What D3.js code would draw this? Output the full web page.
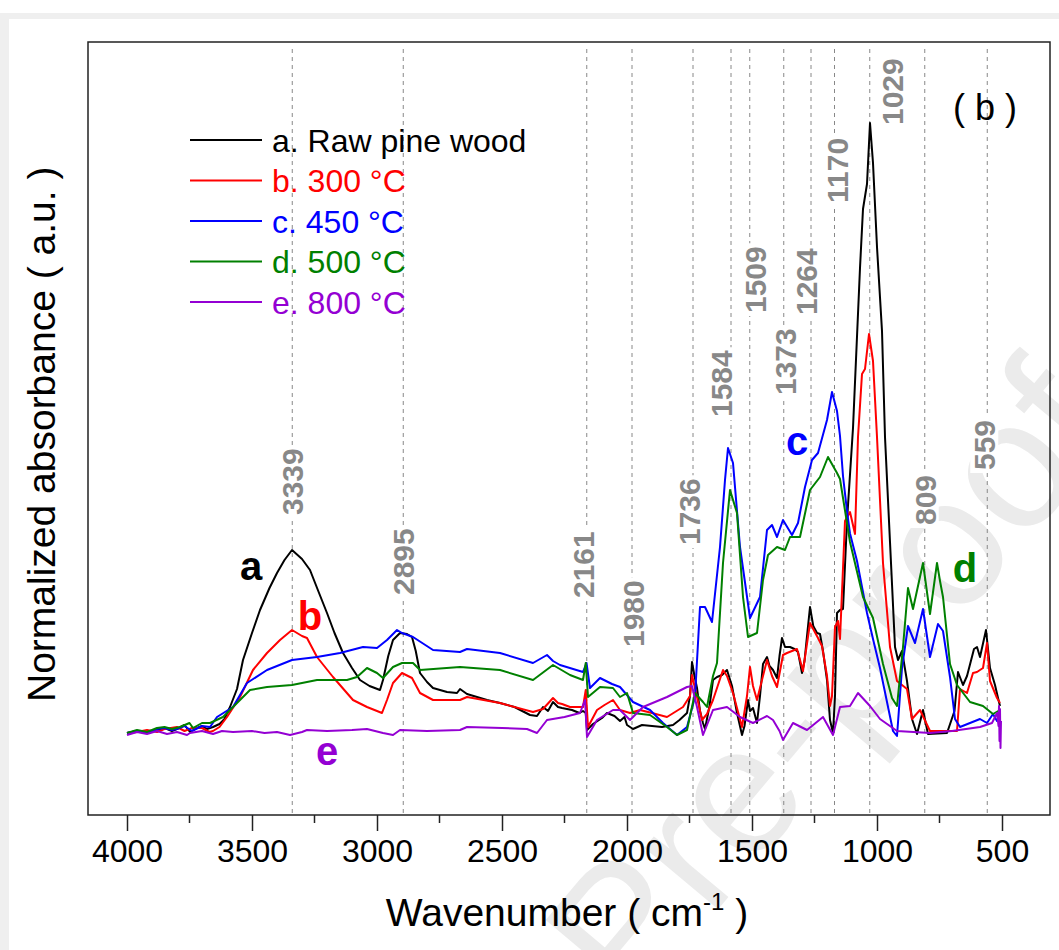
<html>
<head>
<script src="https://d3js.org/d3.v7.min.js"></script>
</head>
<body style="margin:0">
<div id="canvas"></div>
<script>

// ---- data (wavenumber cm-1, normalized absorbance a.u.) ----
var rawPine = [[4000,0.6],[3960,1.0],[3920,0.6],[3880,1.2],[3850,1.6],[3820,1.0],[3800,1.4],[3770,2.2],[3748,0.8],[3720,1.6],[3700,2.0],[3680,1.4],[3656,1.8],[3630,2.4],[3610,3.4],[3588,5.8],[3560,9.4],[3536,15.2],[3500,20.6],[3468,25.2],[3430,29.6],[3400,32.6],[3370,35.2],[3340,37.2],[3300,35.4],[3268,33.2],[3235,29.0],[3200,24.6],[3170,20.6],[3136,16.6],[3100,13.6],[3068,11.2],[3030,10.0],[2988,9.2],[2976,11.2],[2955,16.0],[2936,19.2],[2908,20.6],[2880,20.4],[2860,19.8],[2845,17.0],[2828,12.6],[2800,10.8],[2776,9.6],[2720,8.8],[2680,8.6],[2668,9.4],[2640,8.4],[2600,7.8],[2560,7.2],[2508,6.6],[2450,5.8],[2388,4.2],[2360,4.0],[2336,5.8],[2316,5.0],[2296,6.8],[2276,5.8],[2260,5.6],[2220,5.2],[2190,4.6],[2176,5.0],[2165,4.6],[2160,1.2],[2136,2.4],[2100,3.6],[2080,4.6],[2050,4.0],[2028,3.0],[2010,3.8],[2000,2.2],[1976,1.4],[1940,2.2],[1900,2.0],[1860,1.8],[1816,2.2],[1790,3.2],[1760,4.6],[1748,8.0],[1740,14.8],[1730,12.0],[1720,9.6],[1708,5.0],[1696,2.6],[1688,1.4],[1670,6.0],[1656,11.2],[1640,11.8],[1620,12.2],[1600,13.2],[1580,10.0],[1560,4.6],[1540,0.2],[1530,2.0],[1516,7.2],[1508,5.0],[1496,5.6],[1480,2.6],[1468,8.0],[1456,14.4],[1440,15.8],[1430,14.0],[1416,13.2],[1400,11.6],[1390,16.0],[1380,19.6],[1368,17.8],[1348,17.8],[1330,17.4],[1316,16.8],[1300,12.6],[1290,15.0],[1280,20.0],[1268,25.8],[1255,22.0],[1240,20.6],[1228,20.4],[1216,17.0],[1200,11.2],[1188,3.2],[1176,0.6],[1168,8.0],[1160,24.6],[1148,25.2],[1136,25.4],[1120,43.0],[1096,61.6],[1068,93.6],[1056,105.4],[1040,110.4],[1028,122.6],[1016,114.6],[1000,97.8],[980,81.0],[968,59.8],[948,38.8],[928,17.8],[916,15.2],[900,17.0],[880,11.0],[860,3.4],[840,0.4],[816,5.2],[796,0.4],[720,0.6],[690,5.0],[676,12.8],[656,10.2],[640,12.0],[612,17.4],[600,17.8],[588,15.8],[564,21.2],[548,13.6],[528,10.2],[516,7.6],[508,6.0]];

var char300 = [[4000,0.6],[3960,0.8],[3920,1.2],[3880,0.8],[3850,1.4],[3800,1.8],[3770,1.0],[3740,1.6],[3700,1.6],[3670,0.8],[3656,1.0],[3630,1.8],[3600,3.8],[3548,7.8],[3496,13.2],[3440,16.6],[3388,19.2],[3340,21.2],[3300,20.0],[3280,19.6],[3240,15.8],[3176,11.8],[3096,7.2],[3040,5.8],[2980,4.6],[2960,7.2],[2936,10.6],[2900,12.6],[2860,11.6],[2828,8.6],[2776,7.2],[2668,7.2],[2640,7.8],[2508,6.6],[2376,4.8],[2336,5.4],[2296,7.6],[2276,6.6],[2260,6.4],[2228,5.8],[2176,5.8],[2165,9.2],[2156,1.8],[2120,5.2],[2090,6.2],[2056,7.2],[2028,5.2],[1988,4.6],[1948,5.2],[1900,4.6],[1840,3.8],[1776,5.8],[1748,8.0],[1740,12.2],[1720,7.8],[1700,3.2],[1680,4.4],[1656,7.2],[1616,13.2],[1600,12.0],[1576,8.6],[1540,1.8],[1520,8.0],[1508,13.8],[1496,10.0],[1480,7.2],[1440,15.2],[1420,12.0],[1400,9.8],[1376,16.2],[1360,16.6],[1320,17.4],[1296,13.0],[1268,22.6],[1236,19.6],[1220,18.0],[1200,12.0],[1188,6.0],[1180,8.0],[1168,21.8],[1156,23.0],[1148,19.4],[1128,43.0],[1108,44.8],[1088,40.4],[1076,59.8],[1060,72.4],[1048,73.4],[1032,80.4],[1016,75.0],[1000,59.8],[976,34.6],[948,17.8],[920,11.0],[880,9.4],[860,3.4],[828,5.2],[788,1.0],[680,1.0],[668,9.4],[640,8.6],[616,12.6],[600,12.8],[576,13.6],[560,18.6],[548,11.0],[520,7.6],[508,6.6]];

var char450 = [[4000,0.6],[3960,1.0],[3920,0.6],[3880,1.4],[3850,1.6],[3820,1.2],[3800,1.4],[3770,2.0],[3740,1.0],[3700,2.0],[3668,1.8],[3640,3.8],[3576,5.8],[3520,10.6],[3440,13.2],[3340,15.2],[3240,15.8],[3148,16.6],[3056,17.8],[3000,17.6],[2960,19.2],[2920,21.2],[2900,20.6],[2856,19.8],[2776,17.2],[2668,16.8],[2640,17.4],[2508,16.6],[2376,14.6],[2320,16.2],[2296,15.0],[2268,14.2],[2176,12.8],[2162,14.6],[2148,9.6],[2108,11.6],[2060,10.4],[2028,9.8],[1976,6.8],[1908,5.2],[1856,2.6],[1800,0.2],[1760,1.8],[1728,7.8],[1708,25.8],[1688,25.8],[1660,22.8],[1628,37.8],[1608,51.2],[1596,57.6],[1576,54.6],[1548,37.8],[1508,23.6],[1468,27.8],[1440,41.2],[1420,42.2],[1400,39.8],[1376,43.2],[1340,40.2],[1316,42.6],[1288,49.8],[1260,55.2],[1236,56.6],[1200,63.2],[1180,68.8],[1160,65.0],[1148,60.0],[1136,52.0],[1120,45.0],[1108,40.5],[1080,35.0],[1040,24.6],[1016,19.4],[988,13.6],[960,6.8],[936,1.0],[920,0.0],[900,13.6],[876,22.0],[848,18.6],[816,25.4],[788,15.8],[756,22.4],[736,21.0],[708,11.8],[688,3.4],[668,1.8],[588,3.4],[560,2.6],[536,4.4],[520,3.0],[508,3.6]];

var char500 = [[4000,0.6],[3960,1.2],[3920,0.8],[3880,1.6],[3850,1.8],[3820,1.4],[3788,1.8],[3750,2.6],[3736,1.6],[3700,2.6],[3668,2.6],[3616,3.8],[3548,7.2],[3508,9.2],[3440,9.8],[3340,10.2],[3240,11.2],[3120,11.2],[3080,11.8],[3040,13.6],[3000,12.6],[2976,11.6],[2936,13.8],[2900,14.6],[2856,14.6],[2828,13.2],[2668,13.8],[2508,13.2],[2376,11.2],[2296,14.2],[2228,12.2],[2176,11.2],[2165,14.6],[2156,7.8],[2108,9.8],[2056,9.6],[2028,7.8],[2000,8.6],[1976,4.6],[1908,4.2],[1840,1.8],[1800,0.2],[1760,1.2],[1728,8.6],[1696,6.8],[1680,5.8],[1656,12.0],[1640,14.6],[1616,34.6],[1588,49.2],[1560,44.6],[1536,27.8],[1516,19.8],[1480,20.6],[1456,31.2],[1436,36.2],[1400,37.8],[1368,37.2],[1348,39.8],[1308,39.8],[1268,49.2],[1228,51.8],[1196,55.8],[1160,52.6],[1148,51.4],[1108,38.8],[1056,27.8],[1016,23.6],[976,14.4],[940,7.6],[920,6.0],[896,17.8],[876,29.6],[856,25.4],[816,34.6],[788,24.4],[760,34.6],[748,31.0],[736,27.8],[708,14.4],[680,10.2],[628,6.8],[576,6.0],[536,4.4],[508,5.2]];

var char800 = [[4000,0.2],[3960,0.8],[3920,0.4],[3880,1.0],[3840,0.4],[3800,0.8],[3760,0.2],[3748,0.6],[3700,1.0],[3656,0.4],[3620,1.0],[3576,0.8],[3500,1.0],[3450,0.6],[3400,0.8],[3348,0.2],[3300,0.8],[3280,1.2],[3200,1.0],[3100,1.2],[3040,1.4],[2976,0.6],[2936,0.2],[2908,1.2],[2800,1.0],[2668,1.2],[2640,1.8],[2500,1.6],[2400,1.4],[2360,0.6],[2320,3.2],[2250,3.8],[2188,4.6],[2168,7.2],[2160,-0.2],[2120,3.2],[2056,5.2],[2028,5.2],[1988,3.2],[1936,5.8],[1840,7.8],[1760,9.8],[1740,10.0],[1720,5.8],[1696,0.2],[1656,5.2],[1600,5.8],[1548,3.8],[1496,2.6],[1440,4.0],[1416,3.2],[1390,1.0],[1376,-0.8],[1336,2.6],[1280,1.2],[1216,3.8],[1176,0.2],[1148,5.8],[1108,6.0],[1076,8.6],[1028,6.0],[988,3.4],[920,1.0],[788,0.6],[700,1.0],[588,1.8],[540,2.6],[520,4.6],[514,2.0],[512,6.0],[510,-1.0],[508,5.4],[506,-2.4],[504,3.0]];

var seriesNames = ["a. Raw pine wood", "b. 300 \u00B0C", "c. 450 \u00B0C", "d. 500 \u00B0C", "e. 800 \u00B0C"];
var seriesLetters = ["a", "b", "c", "d", "e"];
var seriesColors = ["#000000", "#ff0000", "#0000ff", "#008000", "#9400d3"];
var peaks = [3339, 2895, 2161, 1980, 1736, 1584, 1509, 1373, 1264, 1170, 1029, 809, 559];
var xTicks = [4000, 3500, 3000, 2500, 2000, 1500, 1000, 500];

var width = 1059;
var height = 950;
var plotL = 88, plotR = 1050, plotT = 42, plotB = 815;

var svg = d3.select("#canvas").append("svg").attr("width", width).attr("height", height)
    .style("font-family", "Liberation Sans, Arial, sans-serif");

// page border
svg.append("rect").attr("width", width).attr("height", height).attr("fill", "#ffffff");
svg.append("rect").attr("x", 0).attr("y", 13).attr("width", width).attr("height", height).attr("fill", "#efefef");
svg.append("rect").attr("x", 9).attr("y", 19).attr("width", width).attr("height", height).attr("fill", "#ffffff");

// watermark
svg.append("text")
    .attr("transform", "translate(632,1012) rotate(-50)")
    .attr("font-size", 182)
    .attr("fill", "#ebebeb")
    .text("Pre-proofs");

var x = d3.scaleLinear().domain([4156, 308]).range([plotL, plotR]);
var y = d3.scaleLinear().domain([-15.8, 138.8]).range([plotB, plotT]);

// dashed peak lines
svg.selectAll(".peak").data(peaks).enter().append("line")
    .attr("x1", function(d) { return x(d); })
    .attr("x2", function(d) { return x(d); })
    .attr("y1", 49)
    .attr("y2", plotB)
    .attr("stroke", "#888")
    .attr("stroke-width", 1)
    .attr("stroke-dasharray", "4,4");

// peak labels (bottom of rotated text, horizontal nudge)
var labelBottom = [515, 595, 598, 647, 545, 417, 313, 395, 315, 203, 125, 525, 470];
var labelShift = [0, 0, -4, 1, -4, -10, 5, 1, -5, 3, 22, 0, -3];
peaks.forEach(function(p, i) {
    var g = svg.append("g")
        .attr("transform", "translate(" + (x(p) + labelShift[i]) + "," + labelBottom[i] + ") rotate(-90)");
    var bg = g.append("rect").attr("fill", "#ffffff");
    var t = g.append("text")
        .attr("x", 0).attr("y", 0)
        .attr("dy", "0.36em")
        .attr("font-size", 30)
        .attr("font-weight", "bold")
        .attr("fill", "#888888")
        .text(p);
    var w = t.node().getComputedTextLength();
    bg.attr("x", -3).attr("y", -14).attr("width", w + 6).attr("height", 28);
});

// spectra
var line = d3.line()
    .x(function(d) { return x(d[0]); })
    .y(function(d) { return y(d[1]); });

var allSeries = [rawPine, char300, char450, char500, char800];
allSeries.forEach(function(s, i) {
    svg.append("path")
        .attr("d", line(s))
        .attr("fill", "none")
        .attr("stroke", seriesColors[i])
        .attr("stroke-width", 2)
        .attr("stroke-linejoin", "round");
});

// frame
svg.append("rect")
    .attr("x", plotL).attr("y", plotT)
    .attr("width", plotR - plotL).attr("height", plotB - plotT)
    .attr("fill", "none")
    .attr("stroke", "#222")
    .attr("stroke-width", 1.5);

// x axis
var xAxis = d3.axisBottom(x).tickValues(xTicks).tickSize(16).tickPadding(8).tickFormat(d3.format("d"));
var ax = svg.append("g").attr("transform", "translate(0," + plotB + ")").call(xAxis);
ax.select(".domain").remove();
ax.selectAll("line").attr("stroke", "#222").attr("stroke-width", 1.5);
ax.selectAll("text").attr("font-size", 32).attr("fill", "#000")
    .attr("font-family", "Liberation Sans, Arial, sans-serif");

var minor = d3.range(3750, 250, -500);
svg.selectAll(".minor").data(minor).enter().append("line")
    .attr("x1", function(d) { return x(d); })
    .attr("x2", function(d) { return x(d); })
    .attr("y1", plotB).attr("y2", plotB + 8)
    .attr("stroke", "#222").attr("stroke-width", 1.5);

// axis titles
var xt = svg.append("text")
    .attr("x", 567).attr("y", 926)
    .attr("text-anchor", "middle")
    .attr("font-size", 39);
xt.append("tspan").text("Wavenumber ( cm");
xt.append("tspan").attr("dy", -16).attr("font-size", 24).text("-1");
xt.append("tspan").attr("dy", 16).text(" )");

svg.append("text")
    .attr("transform", "translate(55,702) rotate(-90)")
    .attr("font-size", 39)
    .text("Normalized absorbance ( a.u. )");

svg.append("text")
    .attr("x", 985).attr("y", 120)
    .attr("text-anchor", "middle")
    .attr("font-size", 36)
    .text("( b )");

// legend
seriesNames.forEach(function(n, i) {
    var ly = 140 + i * 40.5;
    svg.append("line")
        .attr("x1", 190).attr("x2", 262)
        .attr("y1", ly).attr("y2", ly)
        .attr("stroke", seriesColors[i]).attr("stroke-width", 2);
    svg.append("text")
        .attr("x", 272).attr("y", ly)
        .attr("dy", "0.36em")
        .attr("font-size", 32)
        .attr("fill", seriesColors[i])
        .text(n);
});

// curve letters
var letterPos = [[251, 580], [310, 630], [797, 455], [965, 582], [327, 765]];
seriesLetters.forEach(function(l, i) {
    svg.append("text")
        .attr("x", letterPos[i][0]).attr("y", letterPos[i][1])
        .attr("text-anchor", "middle")
        .attr("font-size", 40)
        .attr("font-weight", "bold")
        .attr("fill", seriesColors[i])
        .text(l);
});

</script>
</body>
</html>
